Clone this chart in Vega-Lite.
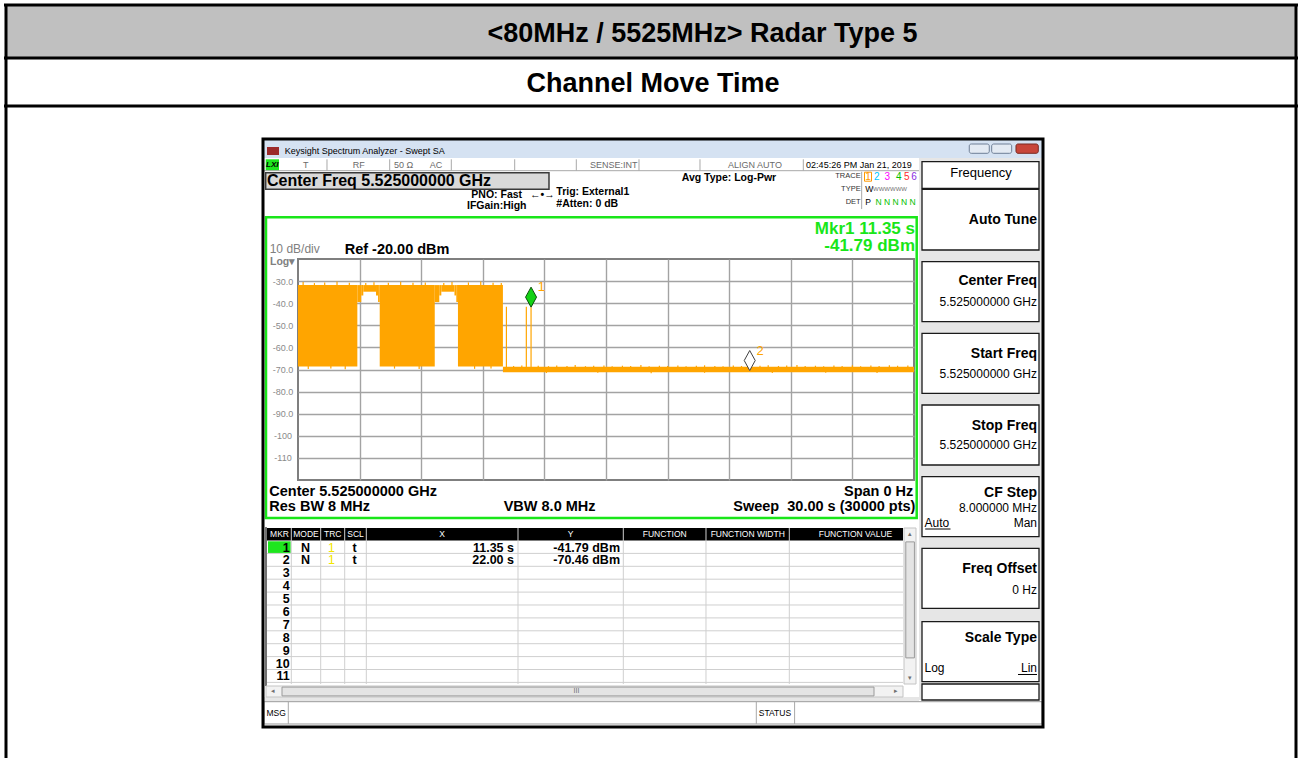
{
  "$schema": "https://vega.github.io/schema/vega-lite/v6.json",
  "autosize": {"type": "none"},
  "width": 616,
  "height": 221,
  "padding": {"left": 298, "top": 259, "right": 387, "bottom": 278},
  "background": "#ffffff",
  "config": {
    "view": {"stroke": "#7f7f7f", "strokeWidth": 2},
    "font": "Liberation Sans",
    "text": {"font": "Liberation Sans"}
  },
  "datasets": {
    "hdr": [{"x": -14.221, "x2": 48.604, "y": 94.48, "y2": 71.403}],
    "tablelines": [
      {"x": -14.318, "x2": 48.701, "y": 94.932, "y2": 94.932},
      {"x": -14.318, "x2": 48.701, "y": 70.95, "y2": 70.95},
      {"x": -14.318, "x2": 48.701, "y": 49.231, "y2": 49.231},
      {"x": -14.221, "x2": -14.221, "y": 95.385, "y2": -250},
      {"x": 48.604, "x2": 48.604, "y": 95.385, "y2": -250}
    ],
    "titlebar": [{"x": -1.6558, "x2": 36.2338, "y": 33.846, "y2": 25.701}],
    "panelbg": [
      {"x": 30.2435, "x2": 36.2338, "y": 25.701, "y2": -219.548},
      {"x": -1.6558, "x2": 30.2435, "y": -218.19, "y2": -220.317}
    ],
    "softkeys": [
      {"x": 30.3896, "x2": 36.0877, "y": 24.027, "y2": 11.991},
      {"x": 30.3896, "x2": 36.0877, "y": 11.538, "y2": -15.928},
      {"x": 30.3896, "x2": 36.0877, "y": -21.222, "y2": -48.371},
      {"x": 30.3896, "x2": 36.0877, "y": -53.62, "y2": -80.769},
      {"x": 30.3896, "x2": 36.0877, "y": -86.063, "y2": -113.213},
      {"x": 30.3896, "x2": 36.0877, "y": -118.507, "y2": -145.656},
      {"x": 30.3896, "x2": 36.0877, "y": -150.905, "y2": -178.054},
      {"x": 30.3896, "x2": 36.0877, "y": -184.118, "y2": -211.267},
      {"x": 30.3896, "x2": 36.0877, "y": -212.308, "y2": -219.548}
    ],
    "cfbox": [{"x": -1.5731, "x2": 12.224, "y": 19.05, "y2": 11.538}],
    "greenframe": [{"x": -1.5584, "x2": 30.1315, "y": -1.131, "y2": -137.195}],
    "tablehead": [{"x": -1.5584, "x2": 29.4643, "y": -141.719, "y2": -147.376}],
    "tablegrid": [
      {"x": -1.5584, "x2": 29.4643, "y": -153.213, "y2": -153.213},
      {"x": -1.5584, "x2": 29.4643, "y": -159.05, "y2": -159.05},
      {"x": -1.5584, "x2": 29.4643, "y": -164.887, "y2": -164.887},
      {"x": -1.5584, "x2": 29.4643, "y": -170.724, "y2": -170.724},
      {"x": -1.5584, "x2": 29.4643, "y": -176.561, "y2": -176.561},
      {"x": -1.5584, "x2": 29.4643, "y": -182.398, "y2": -182.398},
      {"x": -1.5584, "x2": 29.4643, "y": -188.235, "y2": -188.235},
      {"x": -1.5584, "x2": 29.4643, "y": -194.072, "y2": -194.072},
      {"x": -1.5584, "x2": 29.4643, "y": -199.909, "y2": -199.909},
      {"x": -1.5584, "x2": 29.4643, "y": -205.747, "y2": -205.747},
      {"x": -1.5584, "x2": 29.4643, "y": -211.584, "y2": -211.584},
      {"x": -0.3263, "x2": -0.3263, "y": -141.719, "y2": -212.3},
      {"x": 1.1055, "x2": 1.1055, "y": -141.719, "y2": -212.3},
      {"x": 2.2744, "x2": 2.2744, "y": -141.719, "y2": -212.3},
      {"x": 3.3263, "x2": 3.3263, "y": -141.719, "y2": -212.3},
      {"x": 10.7143, "x2": 10.7143, "y": -141.719, "y2": -212.3},
      {"x": 15.8425, "x2": 15.8425, "y": -141.719, "y2": -212.3},
      {"x": 19.8701, "x2": 19.8701, "y": -141.719, "y2": -212.3},
      {"x": 23.9269, "x2": 23.9269, "y": -141.719, "y2": -212.3}
    ],
    "tableleft": [{"x": -1.5584, "x2": -1.5584, "y": -141.3, "y2": -213.2}],
    "greencells": [
      {"x": -1.461, "x2": -0.3555, "y": -147.738, "y2": -153.167},
      {"x": -1.5731, "x2": -0.9253, "y": 25.113, "y2": 19.955}
    ],
    "scrollbg": [
      {"x": 29.513, "x2": 30.0974, "y": -141.719, "y2": -212.308},
      {"x": -1.5584, "x2": 29.4643, "y": -213.213, "y2": -218.19}
    ],
    "scrollthumb": [
      {"x": 29.6, "x2": 30.02, "y": -148.0, "y2": -200.5},
      {"x": -0.7792, "x2": 28.052, "y": -213.7, "y2": -217.7}
    ],
    "msgbar": [{"x": -1.6558, "x2": 36.2338, "y": -220.317, "y2": -230.407}],
    "seps": [
      {"x": -0.4724, "x2": -0.4724, "y": -220.317, "y2": -230.407},
      {"x": 22.3198, "x2": 22.3198, "y": -220.317, "y2": -230.407},
      {"x": 24.1851, "x2": 24.1851, "y": -220.317, "y2": -230.407},
      {"x": 1.4123, "x2": 1.4123, "y": 25.113, "y2": 19.955},
      {"x": 4.466, "x2": 4.466, "y": 25.113, "y2": 19.955},
      {"x": 7.4659, "x2": 7.4659, "y": 25.113, "y2": 19.955},
      {"x": 10.5536, "x2": 10.5536, "y": 25.113, "y2": 19.955},
      {"x": 13.5536, "x2": 13.5536, "y": 25.113, "y2": 19.955},
      {"x": 16.6071, "x2": 16.6071, "y": 25.113, "y2": 19.955},
      {"x": 19.5779, "x2": 19.5779, "y": 25.113, "y2": 19.955},
      {"x": 24.6088, "x2": 24.6088, "y": 25.113, "y2": 19.955},
      {"x": -1.6558, "x2": 30.2435, "y": 19.955, "y2": 19.955},
      {"x": 27.4514, "x2": 27.4514, "y": 19.5, "y2": 2.6}
    ],
    "window": [{"x": -1.7045, "x2": 36.2825, "y": 34.299, "y2": -231.765}],
    "winbtn": [
      {"x": 32.692, "x2": 33.666, "y": 32.036, "y2": 27.828},
      {"x": 33.783, "x2": 34.757, "y": 32.036, "y2": 27.828}
    ],
    "closebtn": [{"x": 34.967, "x2": 36.053, "y": 32.036, "y2": 27.828}],
    "icon": [{"x": -1.5097, "x2": -0.9253, "y": 30.679, "y2": 27.059}],
    "tr1box": [{"x": 27.59, "x2": 27.931, "y": 19.276, "y2": 15.204}],
    "underlines": [
      {"x": 30.545, "x2": 31.777, "y": -142.172, "y2": -142.172},
      {"x": 35.065, "x2": 35.99, "y": -208.009, "y2": -208.009}
    ],
    "bands": [
      {"x": 0, "x2": 2.89, "y": -68.6, "y2": -31.8},
      {"x": 2.89, "x2": 3.08, "y": -39.5, "y2": -31.8},
      {"x": 3.08, "x2": 3.18, "y": -36.5, "y2": -31.8},
      {"x": 3.18, "x2": 3.8, "y": -34.8, "y2": -31.8},
      {"x": 3.8, "x2": 3.9, "y": -36.5, "y2": -31.8},
      {"x": 3.9, "x2": 3.98, "y": -39.5, "y2": -31.8},
      {"x": 3.98, "x2": 6.66, "y": -68.6, "y2": -31.8},
      {"x": 6.66, "x2": 6.88, "y": -39.5, "y2": -31.8},
      {"x": 6.88, "x2": 6.98, "y": -36.5, "y2": -31.8},
      {"x": 6.98, "x2": 7.62, "y": -34.8, "y2": -31.8},
      {"x": 7.62, "x2": 7.71, "y": -36.5, "y2": -31.8},
      {"x": 7.71, "x2": 7.79, "y": -39.5, "y2": -31.8},
      {"x": 7.79, "x2": 9.98, "y": -68.6, "y2": -31.8},
      {"x": 9.98, "x2": 30, "y": -71.2, "y2": -68.8}
    ],
    "spikes": [
      {"x": 0.25, "y": -33, "y2": -30.4}, {"x": 0.8, "y": -33, "y2": -30.9},
      {"x": 1.3, "y": -33, "y2": -30.6}, {"x": 1.9, "y": -33, "y2": -30.2},
      {"x": 2.5, "y": -33, "y2": -30.8}, {"x": 3.3, "y": -33, "y2": -30.9},
      {"x": 3.7, "y": -33, "y2": -30.5}, {"x": 4.4, "y": -33, "y2": -30.7},
      {"x": 5.0, "y": -33, "y2": -30.3}, {"x": 5.6, "y": -33, "y2": -30.8},
      {"x": 6.2, "y": -33, "y2": -30.6}, {"x": 7.1, "y": -33, "y2": -30.9},
      {"x": 7.5, "y": -33, "y2": -30.4}, {"x": 8.3, "y": -33, "y2": -30.6},
      {"x": 8.9, "y": -33, "y2": -30.2}, {"x": 9.5, "y": -33, "y2": -30.7},
      {"x": 9.9, "y": -33, "y2": -30.9},
      {"x": 0.5, "y": -68, "y2": -69.8}, {"x": 1.6, "y": -68, "y2": -69.5},
      {"x": 2.3, "y": -68, "y2": -69.9}, {"x": 4.7, "y": -68, "y2": -69.6},
      {"x": 5.9, "y": -68, "y2": -69.8}, {"x": 8.6, "y": -68, "y2": -69.7},
      {"x": 9.4, "y": -68, "y2": -69.5},
      {"x": 10.15, "y": -41.6, "y2": -69.5},
      {"x": 11.12, "y": -41.6, "y2": -69.5},
      {"x": 11.35, "y": -41.8, "y2": -69.5},
      {"x": 10.5, "y": -68.4, "y2": -69.3}, {"x": 10.9, "y": -68.2, "y2": -69.3},
      {"x": 11.7, "y": -68.3, "y2": -69.3}, {"x": 12.2, "y": -68.5, "y2": -69.3},
      {"x": 12.6, "y": -68.2, "y2": -69.3}, {"x": 13.1, "y": -68.4, "y2": -69.3},
      {"x": 13.5, "y": -68.0, "y2": -69.3}, {"x": 14.0, "y": -68.5, "y2": -69.3},
      {"x": 14.4, "y": -68.3, "y2": -69.3}, {"x": 14.9, "y": -68.2, "y2": -69.3},
      {"x": 15.3, "y": -68.5, "y2": -69.3}, {"x": 15.8, "y": -68.3, "y2": -69.3},
      {"x": 16.2, "y": -68.4, "y2": -69.3}, {"x": 16.7, "y": -68.0, "y2": -69.3},
      {"x": 17.1, "y": -68.5, "y2": -69.3}, {"x": 17.6, "y": -68.3, "y2": -69.3},
      {"x": 18.0, "y": -68.4, "y2": -69.3}, {"x": 18.5, "y": -68.2, "y2": -69.3},
      {"x": 18.9, "y": -68.5, "y2": -69.3}, {"x": 19.4, "y": -68.3, "y2": -69.3},
      {"x": 19.8, "y": -68.1, "y2": -69.3}, {"x": 20.3, "y": -68.4, "y2": -69.3},
      {"x": 20.7, "y": -68.5, "y2": -69.3}, {"x": 21.2, "y": -68.2, "y2": -69.3},
      {"x": 21.6, "y": -68.4, "y2": -69.3}, {"x": 22.5, "y": -68.3, "y2": -69.3},
      {"x": 22.9, "y": -68.1, "y2": -69.3}, {"x": 23.4, "y": -68.4, "y2": -69.3},
      {"x": 23.8, "y": -68.2, "y2": -69.3}, {"x": 24.3, "y": -68.0, "y2": -69.3},
      {"x": 24.7, "y": -68.4, "y2": -69.3}, {"x": 25.2, "y": -68.3, "y2": -69.3},
      {"x": 25.6, "y": -68.5, "y2": -69.3}, {"x": 26.1, "y": -68.2, "y2": -69.3},
      {"x": 26.5, "y": -68.4, "y2": -69.3}, {"x": 27.0, "y": -68.1, "y2": -69.3},
      {"x": 27.4, "y": -68.5, "y2": -69.3}, {"x": 27.9, "y": -68.2, "y2": -69.3},
      {"x": 28.3, "y": -68.4, "y2": -69.3}, {"x": 28.8, "y": -68.1, "y2": -69.3},
      {"x": 29.2, "y": -68.3, "y2": -69.3}, {"x": 29.7, "y": -68.2, "y2": -69.3},
      {"x": 12.1, "y": -70.8, "y2": -71.6}, {"x": 14.6, "y": -70.8, "y2": -71.5},
      {"x": 17.2, "y": -70.8, "y2": -71.7}, {"x": 19.8, "y": -70.8, "y2": -71.5},
      {"x": 23.1, "y": -70.8, "y2": -71.6}, {"x": 25.7, "y": -70.8, "y2": -71.5},
      {"x": 28.2, "y": -70.8, "y2": -71.6}
    ],
    "markers": [
      {"x": 11.35, "y": -41.79, "id": 1},
      {"x": 22.0, "y": -70.46, "id": 2}
    ],
    "t_mklabel": [
      {"x": 11.85, "y": -32.5, "label": "1"},
      {"x": 22.5, "y": -61.6, "label": "2"}
    ],
    "t_big": [
      {"x": 19.7, "y": 81.6, "label": "<80MHz / 5525MHz> Radar Type 5"},
      {"x": 17.289, "y": 59.0, "label": "Channel Move Time"}
    ],
    "t_wintitle": [{"x": -0.6477, "y": 29.005, "label": "Keysight Spectrum Analyzer - Swept SA"}],
    "t_status_grey": [
      {"x": 0.375, "y": 22.534, "label": "T"},
      {"x": 2.956, "y": 22.534, "label": "RF"},
      {"x": 5.138, "y": 22.534, "label": "50 Ω"},
      {"x": 6.721, "y": 22.534, "label": "AC"},
      {"x": 15.38, "y": 22.534, "label": "SENSE:INT"},
      {"x": 22.2565, "y": 22.534, "label": "ALIGN AUTO"}
    ],
    "t_status_black": [
      {"x": 27.317, "y": 22.534, "label": "02:45:26 PM Jan 21, 2019"}
    ],
    "t_lxi": [{"x": -1.2516, "y": 22.534, "label": "LXI"}],
    "t_cf": [{"x": -1.5097, "y": 15.158, "label": "Center Freq 5.525000000 GHz"}],
    "t_small_bold": [
      {"x": 8.4403, "y": 8.959, "label": "PNO: Fast"},
      {"x": 8.2305, "y": 3.982, "label": "IFGain:High"},
      {"x": 11.3, "y": 8.959, "label": "←•→"},
      {"x": 12.5795, "y": 10.452, "label": "Trig: External1"},
      {"x": 12.5795, "y": 4.887, "label": "#Atten: 0 dB"},
      {"x": 18.6867, "y": 16.516, "label": "Avg Type: Log-Pwr"}
    ],
    "t_mkr": [
      {"x": 30.0487, "y": -6.425, "label": "Mkr1 11.35 s"},
      {"x": 30.0487, "y": -14.34, "label": "-41.79 dBm"}
    ],
    "t_grey12": [{"x": -1.3782, "y": -15.5, "label": "10 dB/div"}],
    "t_log": [{"x": -1.3636, "y": -21.4, "label": "Log▾"}],
    "t_bold14_left": [
      {"x": 2.2744, "y": -15.95, "label": "Ref -20.00 dBm"},
      {"x": -1.3977, "y": -125.566, "label": "Center 5.525000000 GHz"},
      {"x": -1.3977, "y": -132.443, "label": "Res BW 8 MHz"},
      {"x": 10.018, "y": -132.443, "label": "VBW 8.0 MHz"}
    ],
    "t_bold14_right": [
      {"x": 29.966, "y": -125.566, "label": "Span 0 Hz"},
      {"x": 30.07, "y": -132.443, "label": "Sweep\u00a0\u00a030.00 s (30000 pts)"}
    ],
    "t_freqhdr": [{"x": 33.263, "y": 18.778, "label": "Frequency"}],
    "t_softbold": [
      {"x": 35.99, "y": -2.353, "label": "Auto Tune"},
      {"x": 35.99, "y": -29.955, "label": "Center Freq"},
      {"x": 35.99, "y": -63.122, "label": "Start Freq"},
      {"x": 35.99, "y": -95.566, "label": "Stop Freq"},
      {"x": 35.99, "y": -126.018, "label": "CF Step"},
      {"x": 35.99, "y": -160.271, "label": "Freq Offset"},
      {"x": 35.99, "y": -191.629, "label": "Scale Type"}
    ],
    "t_softval": [
      {"x": 35.99, "y": -39.321, "label": "5.525000000 GHz"},
      {"x": 35.99, "y": -72.036, "label": "5.525000000 GHz"},
      {"x": 35.99, "y": -104.163, "label": "5.525000000 GHz"},
      {"x": 35.99, "y": -132.805, "label": "8.000000 MHz"},
      {"x": 35.99, "y": -139.321, "label": "Man"},
      {"x": 35.99, "y": -169.774, "label": "0 Hz"},
      {"x": 35.99, "y": -205.204, "label": "Lin"}
    ],
    "t_softleft": [
      {"x": 30.511, "y": -139.321, "label": "Auto"},
      {"x": 30.511, "y": -205.204, "label": "Log"}
    ],
    "t_tracelbl": [
      {"x": 27.4027, "y": 17.692, "label": "TRACE"},
      {"x": 27.4027, "y": 11.674, "label": "TYPE"},
      {"x": 27.4027, "y": 5.656, "label": "DET"}
    ],
    "t_tracenum": [
      {"x": 27.762, "y": 17.104, "label": "1"},
      {"x": 28.183, "y": 17.104, "label": "2"},
      {"x": 28.7, "y": 17.104, "label": "3"},
      {"x": 29.255, "y": 17.104, "label": "4"},
      {"x": 29.645, "y": 17.104, "label": "5"},
      {"x": 30.0, "y": 17.104, "label": "6"}
    ],
    "t_typedet": [
      {"x": 27.62, "y": 11.674, "label": "W"},
      {"x": 27.62, "y": 5.656, "label": "P"}
    ],
    "t_typew": [{"x": 28.003, "y": 11.674, "label": "WWWWWW"}],
    "t_detn": [{"x": 28.125, "y": 5.656, "label": "N N N N N"}],
    "t_tblhdr": [
      {"x": -0.901, "y": -144.572, "label": "MKR"},
      {"x": 0.3896, "y": -144.572, "label": "MODE"},
      {"x": 1.6899, "y": -144.572, "label": "TRC"},
      {"x": 2.8003, "y": -144.572, "label": "SCL"},
      {"x": 7.013, "y": -144.572, "label": "X"},
      {"x": 13.2808, "y": -144.572, "label": "Y"},
      {"x": 17.8588, "y": -144.572, "label": "FUNCTION"},
      {"x": 21.901, "y": -144.572, "label": "FUNCTION WIDTH"},
      {"x": 27.151, "y": -144.572, "label": "FUNCTION VALUE"}
    ],
    "t_rownum": [
      {"x": -0.4042, "y": -150.543, "label": "1"},
      {"x": -0.4042, "y": -156.38, "label": "2"},
      {"x": -0.4042, "y": -162.217, "label": "3"},
      {"x": -0.4042, "y": -168.054, "label": "4"},
      {"x": -0.4042, "y": -173.891, "label": "5"},
      {"x": -0.4042, "y": -179.729, "label": "6"},
      {"x": -0.4042, "y": -185.566, "label": "7"},
      {"x": -0.4042, "y": -191.403, "label": "8"},
      {"x": -0.4042, "y": -197.24, "label": "9"},
      {"x": -0.4042, "y": -203.077, "label": "10"},
      {"x": -0.4042, "y": -208.914, "label": "11"},
      {"x": 10.5195, "y": -150.543, "label": "11.35 s"},
      {"x": 10.5195, "y": -156.38, "label": "22.00 s"},
      {"x": 15.6818, "y": -150.543, "label": "-41.79 dBm"},
      {"x": 15.6818, "y": -156.38, "label": "-70.46 dBm"}
    ],
    "t_tblcenter": [
      {"x": 0.3653, "y": -150.543, "label": "N"},
      {"x": 0.3653, "y": -156.38, "label": "N"},
      {"x": 2.7614, "y": -150.543, "label": "t"},
      {"x": 2.7614, "y": -156.38, "label": "t"}
    ],
    "t_tblyellow": [
      {"x": 1.6315, "y": -150.543, "label": "1"},
      {"x": 1.6315, "y": -156.38, "label": "1"}
    ],
    "t_msg": [
      {"x": -1.539, "y": -225.294, "label": "MSG"},
      {"x": 22.4416, "y": -225.294, "label": "STATUS"}
    ],
    "t_scroll": [
      {"x": 13.5633, "y": -215.7, "label": "III"},
      {"x": -1.1932, "y": -215.7, "label": "◂"},
      {"x": 29.1429, "y": -215.7, "label": "▸"},
      {"x": 29.805, "y": -144.5, "label": "▴"},
      {"x": 29.805, "y": -209.8, "label": "▾"}
    ]
  },
  "encoding": {
    "x": {
      "field": "x", "type": "quantitative",
      "scale": {"domain": [0, 30], "nice": false, "zero": false},
      "axis": {"values": [3, 6, 9, 12, 15, 18, 21, 24, 27], "grid": true, "labels": false, "ticks": false, "domain": false, "title": null, "gridColor": "#a3a3a3", "gridWidth": 1.4}
    },
    "y": {
      "field": "y", "type": "quantitative",
      "scale": {"domain": [-120, -20], "nice": false, "zero": false},
      "axis": {"values": [-30, -40, -50, -60, -70, -80, -90, -100, -110], "grid": true, "ticks": false, "tickSize": 0, "domain": false, "title": null, "gridColor": "#a3a3a3", "gridWidth": 1.4, "labelAlign": "center", "labelPadding": 15.5, "labelColor": "#8a8a8a", "labelFontSize": 9, "labelFont": "Liberation Sans", "labelBaseline": "middle", "labelExpr": "'-' + (datum.value > -100 ? format(-datum.value, '.1f') : format(-datum.value, 'd'))"}
    }
  },
  "layer": [
    {"data": {"name": "hdr"}, "mark": {"type": "rect", "color": "#c0c0c0"}, "encoding": {"x2": {"field": "x2"}, "y2": {"field": "y2"}}},
    {"data": {"name": "tablelines"}, "mark": {"type": "rule", "color": "#000000", "strokeWidth": 3}, "encoding": {"x2": {"field": "x2"}, "y2": {"field": "y2"}}},
    {"data": {"name": "titlebar"}, "mark": {"type": "rect", "color": "#d5e2f2"}, "encoding": {"x2": {"field": "x2"}, "y2": {"field": "y2"}}},
    {"data": {"name": "panelbg"}, "mark": {"type": "rect", "color": "#e6e6e6"}, "encoding": {"x2": {"field": "x2"}, "y2": {"field": "y2"}}},
    {"data": {"name": "softkeys"}, "mark": {"type": "rect", "fill": "#ffffff", "stroke": "#1a1a1a", "strokeWidth": 1.3}, "encoding": {"x2": {"field": "x2"}, "y2": {"field": "y2"}}},
    {"data": {"name": "cfbox"}, "mark": {"type": "rect", "fill": "#d9d9d9", "stroke": "#3a3a3a", "strokeWidth": 1.5}, "encoding": {"x2": {"field": "x2"}, "y2": {"field": "y2"}}},
    {"data": {"name": "greenframe"}, "mark": {"type": "rect", "filled": false, "stroke": "#19e619", "strokeWidth": 2.5}, "encoding": {"x2": {"field": "x2"}, "y2": {"field": "y2"}}},
    {"data": {"name": "tablehead"}, "mark": {"type": "rect", "color": "#000000"}, "encoding": {"x2": {"field": "x2"}, "y2": {"field": "y2"}}},
    {"data": {"name": "greencells"}, "mark": {"type": "rect", "color": "#1ee61e"}, "encoding": {"x2": {"field": "x2"}, "y2": {"field": "y2"}}},
    {"data": {"name": "tablegrid"}, "mark": {"type": "rule", "color": "#cfcfcf", "strokeWidth": 1}, "encoding": {"x2": {"field": "x2"}, "y2": {"field": "y2"}}},
    {"data": {"name": "tableleft"}, "mark": {"type": "rule", "color": "#707070", "strokeWidth": 2}, "encoding": {"x2": {"field": "x2"}, "y2": {"field": "y2"}}},
    {"data": {"name": "scrollbg"}, "mark": {"type": "rect", "fill": "#f2f2f2", "stroke": "#c4c4c4", "strokeWidth": 1}, "encoding": {"x2": {"field": "x2"}, "y2": {"field": "y2"}}},
    {"data": {"name": "scrollthumb"}, "mark": {"type": "rect", "fill": "#e4e4e4", "stroke": "#9a9a9a", "strokeWidth": 1}, "encoding": {"x2": {"field": "x2"}, "y2": {"field": "y2"}}},
    {"data": {"name": "msgbar"}, "mark": {"type": "rect", "fill": "#ffffff", "stroke": "#9a9a9a", "strokeWidth": 1}, "encoding": {"x2": {"field": "x2"}, "y2": {"field": "y2"}}},
    {"data": {"name": "seps"}, "mark": {"type": "rule", "color": "#a8a8a8", "strokeWidth": 1}, "encoding": {"x2": {"field": "x2"}, "y2": {"field": "y2"}}},
    {"data": {"name": "icon"}, "mark": {"type": "rect", "color": "#9b2a2a"}, "encoding": {"x2": {"field": "x2"}, "y2": {"field": "y2"}}},
    {"data": {"name": "winbtn"}, "mark": {"type": "rect", "fill": "#e3eaf3", "stroke": "#6f7f96", "strokeWidth": 1, "cornerRadius": 2}, "encoding": {"x2": {"field": "x2"}, "y2": {"field": "y2"}}},
    {"data": {"name": "closebtn"}, "mark": {"type": "rect", "fill": "#c8463a", "stroke": "#7a2a22", "strokeWidth": 1, "cornerRadius": 2}, "encoding": {"x2": {"field": "x2"}, "y2": {"field": "y2"}}},
    {"data": {"name": "tr1box"}, "mark": {"type": "rect", "filled": false, "stroke": "#ff9900", "strokeWidth": 1}, "encoding": {"x2": {"field": "x2"}, "y2": {"field": "y2"}}},
    {"data": {"name": "underlines"}, "mark": {"type": "rule", "color": "#000000", "strokeWidth": 1}, "encoding": {"x2": {"field": "x2"}, "y2": {"field": "y2"}}},
    {"data": {"name": "window"}, "mark": {"type": "rect", "filled": false, "stroke": "#000000", "strokeWidth": 3}, "encoding": {"x2": {"field": "x2"}, "y2": {"field": "y2"}}},
    {"data": {"name": "bands"}, "mark": {"type": "rect", "color": "#ffa500"}, "encoding": {"x2": {"field": "x2"}, "y2": {"field": "y2"}}},
    {"data": {"name": "spikes"}, "mark": {"type": "rule", "color": "#ffa500", "strokeWidth": 1.2}, "encoding": {"y2": {"field": "y2"}}},
    {"data": {"name": "markers"}, "transform": [{"filter": "datum.id == 1"}], "mark": {"type": "point", "shape": "M0,0L-0.55,-1L0,-2L0.55,-1Z", "size": 400, "filled": true, "fill": "#14d214", "stroke": "#0a500a", "strokeWidth": 1, "opacity": 1}},
    {"data": {"name": "markers"}, "transform": [{"filter": "datum.id == 2"}], "mark": {"type": "point", "shape": "M0,0L-0.55,-1L0,-2L0.55,-1Z", "size": 400, "filled": true, "fill": "#ffffff", "stroke": "#404040", "strokeWidth": 1, "opacity": 1}},
    {"data": {"name": "t_mklabel"}, "mark": {"type": "text", "fontSize": 13, "color": "#ffa500", "align": "center", "baseline": "middle"}, "encoding": {"text": {"field": "label"}}},
    {"data": {"name": "t_big"}, "mark": {"type": "text", "fontSize": 27, "fontWeight": "bold", "color": "#000000", "align": "center", "baseline": "middle"}, "encoding": {"text": {"field": "label"}}},
    {"data": {"name": "t_wintitle"}, "mark": {"type": "text", "fontSize": 9, "color": "#000000", "align": "left", "baseline": "middle"}, "encoding": {"text": {"field": "label"}}},
    {"data": {"name": "t_status_grey"}, "mark": {"type": "text", "fontSize": 9, "color": "#6a6a6a", "align": "center", "baseline": "middle"}, "encoding": {"text": {"field": "label"}}},
    {"data": {"name": "t_status_black"}, "mark": {"type": "text", "fontSize": 9, "color": "#000000", "align": "center", "baseline": "middle"}, "encoding": {"text": {"field": "label"}}},
    {"data": {"name": "t_lxi"}, "mark": {"type": "text", "fontSize": 8, "fontWeight": "bold", "fontStyle": "italic", "color": "#000000", "align": "center", "baseline": "middle"}, "encoding": {"text": {"field": "label"}}},
    {"data": {"name": "t_cf"}, "mark": {"type": "text", "fontSize": 16, "fontWeight": "bold", "color": "#000000", "align": "left", "baseline": "middle"}, "encoding": {"text": {"field": "label"}}},
    {"data": {"name": "t_small_bold"}, "mark": {"type": "text", "fontSize": 10.5, "fontWeight": "bold", "color": "#000000", "align": "left", "baseline": "middle"}, "encoding": {"text": {"field": "label"}}},
    {"data": {"name": "t_mkr"}, "mark": {"type": "text", "fontSize": 17, "fontWeight": "bold", "color": "#19e619", "align": "right", "baseline": "middle"}, "encoding": {"text": {"field": "label"}}},
    {"data": {"name": "t_grey12"}, "mark": {"type": "text", "fontSize": 12, "color": "#808080", "align": "left", "baseline": "middle"}, "encoding": {"text": {"field": "label"}}},
    {"data": {"name": "t_log"}, "mark": {"type": "text", "fontSize": 10.5, "fontWeight": "bold", "color": "#808080", "align": "left", "baseline": "middle"}, "encoding": {"text": {"field": "label"}}},
    {"data": {"name": "t_bold14_left"}, "mark": {"type": "text", "fontSize": 14.5, "fontWeight": "bold", "color": "#000000", "align": "left", "baseline": "middle"}, "encoding": {"text": {"field": "label"}}},
    {"data": {"name": "t_bold14_right"}, "mark": {"type": "text", "fontSize": 14.5, "fontWeight": "bold", "color": "#000000", "align": "right", "baseline": "middle"}, "encoding": {"text": {"field": "label"}}},
    {"data": {"name": "t_freqhdr"}, "mark": {"type": "text", "fontSize": 13, "color": "#000000", "align": "center", "baseline": "middle"}, "encoding": {"text": {"field": "label"}}},
    {"data": {"name": "t_softbold"}, "mark": {"type": "text", "fontSize": 14, "fontWeight": "bold", "color": "#000000", "align": "right", "baseline": "middle"}, "encoding": {"text": {"field": "label"}}},
    {"data": {"name": "t_softval"}, "mark": {"type": "text", "fontSize": 12, "color": "#000000", "align": "right", "baseline": "middle"}, "encoding": {"text": {"field": "label"}}},
    {"data": {"name": "t_softleft"}, "mark": {"type": "text", "fontSize": 12, "color": "#000000", "align": "left", "baseline": "middle"}, "encoding": {"text": {"field": "label"}}},
    {"data": {"name": "t_tracelbl"}, "mark": {"type": "text", "fontSize": 7.5, "color": "#333333", "align": "right", "baseline": "middle"}, "encoding": {"text": {"field": "label"}}},
    {"data": {"name": "t_tracenum"}, "mark": {"type": "text", "fontSize": 10, "align": "center", "baseline": "middle"}, "encoding": {"text": {"field": "label"}, "color": {"field": "label", "type": "nominal", "scale": {"domain": ["1", "2", "3", "4", "5", "6"], "range": ["#ff9900", "#00c8ff", "#ff00ff", "#00c000", "#ff2a2a", "#8a2be2"]}, "legend": null}}},
    {"data": {"name": "t_typedet"}, "mark": {"type": "text", "fontSize": 8.5, "color": "#000000", "align": "left", "baseline": "middle"}, "encoding": {"text": {"field": "label"}}},
    {"data": {"name": "t_typew"}, "mark": {"type": "text", "fontSize": 6, "color": "#707070", "align": "left", "baseline": "middle"}, "encoding": {"text": {"field": "label"}}},
    {"data": {"name": "t_detn"}, "mark": {"type": "text", "fontSize": 8.5, "color": "#00c000", "align": "left", "baseline": "middle"}, "encoding": {"text": {"field": "label"}}},
    {"data": {"name": "t_tblhdr"}, "mark": {"type": "text", "fontSize": 8.5, "color": "#ffffff", "align": "center", "baseline": "middle"}, "encoding": {"text": {"field": "label"}}},
    {"data": {"name": "t_rownum"}, "mark": {"type": "text", "fontSize": 12.5, "fontWeight": "bold", "color": "#000000", "align": "right", "baseline": "middle"}, "encoding": {"text": {"field": "label"}}},
    {"data": {"name": "t_tblcenter"}, "mark": {"type": "text", "fontSize": 12.5, "fontWeight": "bold", "color": "#000000", "align": "center", "baseline": "middle"}, "encoding": {"text": {"field": "label"}}},
    {"data": {"name": "t_tblyellow"}, "mark": {"type": "text", "fontSize": 12.5, "color": "#f2e600", "align": "center", "baseline": "middle"}, "encoding": {"text": {"field": "label"}}},
    {"data": {"name": "t_msg"}, "mark": {"type": "text", "fontSize": 8.5, "color": "#000000", "align": "left", "baseline": "middle"}, "encoding": {"text": {"field": "label"}}},
    {"data": {"name": "t_scroll"}, "mark": {"type": "text", "fontSize": 7, "color": "#707070", "align": "center", "baseline": "middle"}, "encoding": {"text": {"field": "label"}}}
  ]
}
